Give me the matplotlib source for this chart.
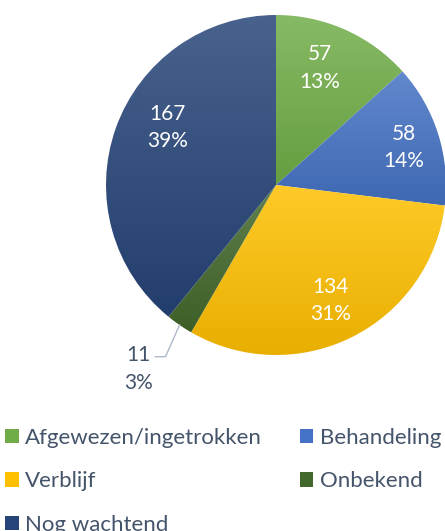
import numpy as np
import matplotlib.pyplot as plt
import matplotlib.colors as mcolors
from matplotlib.patches import Patch

# data
categories = ["Afgewezen/ingetrokken", "Behandeling", "Verblijf", "Onbekend", "Nog wachtend"]
counts = [57, 58, 134, 11, 167]
colors = ["#70AD47", "#4472C4", "#FFC000", "#43682B", "#264478"]

plt.rcParams["font.family"] = ["Lato", "DejaVu Sans"]
text_col = "#44546A"

fig = plt.figure(figsize=(4.45, 5.31), dpi=100)
ax = fig.add_axes([106 / 445, 1 - 355 / 531, 340 / 445, 340 / 531])

wedges, _ = ax.pie(counts, colors=colors, startangle=90, counterclock=False,
                   radius=1.0, wedgeprops=dict(linewidth=0))
ax.set_xlim(-1, 1)
ax.set_ylim(-1, 1)
ax.set_aspect("equal")
ax.axis("off")


def mix(c, other, t):
    a = np.array(mcolors.to_rgb(c))
    b = np.array(mcolors.to_rgb(other))
    return a * (1 - t) + b * t


# gradient fill, lighter on top like the Excel style
for w, c in zip(wedges, colors):
    w.set_facecolor("none")
    top = mix(c, "white", 0.16)
    bot = mix(c, "black", 0.09)
    bb = w.get_path().get_extents(w.get_transform() + ax.transData.inverted())
    g = np.linspace(0, 1, 256)[:, None]
    img = top[None, None, :] * (1 - g[:, :, None]) + bot[None, None, :] * g[:, :, None]
    im = ax.imshow(img, extent=[bb.x0, bb.x1, bb.y0, bb.y1], origin="upper",
                   aspect="auto", zorder=1)
    im.set_clip_path(w)

ax.set_xlim(-1, 1)
ax.set_ylim(-1, 1)

total = sum(counts)
# label placement (radius fraction, angle nudge in degrees), Excel "best fit"-ish
label_r = [0.735, 0.785, 0.75, None, 0.72]
label_da = [3.4, -1.0, -1.4, 0, -8.4]
fs = 15
for w, n, r, da in zip(wedges, counts, label_r, label_da):
    mid = np.deg2rad((w.theta1 + w.theta2) / 2)
    pct = f"{n / total * 100:.0f}%"
    if r is None:
        # outside label with leader line
        p0 = (np.cos(mid) * 1.0, np.sin(mid) * 1.0)
        p1 = (-0.65, -1.01)
        p2 = (-0.71, -1.01)
        ax.plot([p0[0], p1[0], p2[0]], [p0[1], p1[1], p2[1]],
                color="#ADB9CA", lw=1, clip_on=False, zorder=3)
        ax.text(p2[0] - 0.03, p2[1] + 0.01, str(n), ha="right", va="center",
                color=text_col, fontsize=fs)
        ax.text(p2[0] - 0.1, p2[1] - 0.155, pct, ha="center", va="center",
                color=text_col, fontsize=fs)
        continue
    a = mid + np.deg2rad(da)
    ax.text(np.cos(a) * r, np.sin(a) * r, f"{n}\n{pct}", ha="center",
            va="center", color="white", fontsize=fs, linespacing=1.45, zorder=4)

# legend: matplotlib fills columns first, so reorder
order = [0, 2, 4, 1, 3]
handles = [Patch(facecolor=colors[i], edgecolor="none", label=categories[i]) for i in order]
fig.legend(handles=handles, ncol=2, loc="upper left", bbox_to_anchor=(0.012, 1 - 428 / 531),
           frameon=False, fontsize=16, labelcolor=text_col, handlelength=0.6,
           handleheight=0.6, handletextpad=0.3, columnspacing=1.7, labelspacing=1.05,
           borderaxespad=0, borderpad=0)

fig.savefig("out.png", dpi=100)
